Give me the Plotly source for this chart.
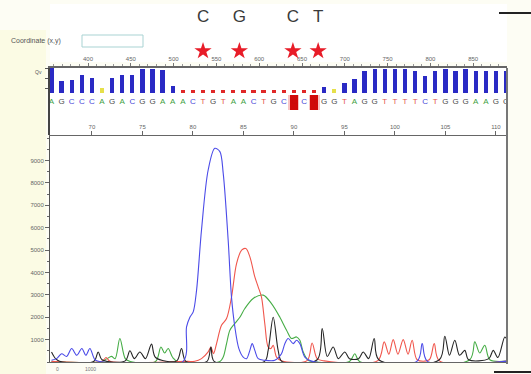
import plotly.graph_objects as go

# ---- sequence strip: base positions, called bases, quality values ----
base_pos = list(range(66, 112))
bases = list("AGCCCAGACGGAAACTGTAACTGC" + "CCT" + "GGTAGGTTTTCTGGGAAGG")
qv = [62, 30, 32, 45, 37, 12, 37, 45, 45, 60, 60, 56, 17,
      8, 8, 8, 8, 8, 8, 8, 8, 8, 8, 8, 8, 8, 8,
      15, 10, 25, 35, 55, 60, 60, 60, 60, 55, 42, 55, 60, 55, 60, 55, 55, 55, 55]
mismatch_pos = [90, 92]

# ---- marked variant sites above the strip ----
variant_pos = [81.0, 84.6, 89.9, 92.4]
variant_base = ["C", "G", "C", "T"]

# ---- scan-number ruler and base-number ticks ----
scan_ticks = [400, 450, 500, 550, 600, 650, 700, 750, 800, 850]
base_ticks = [70, 75, 80, 85, 90, 95, 100, 105, 110]
signal_ticks = [1000, 2000, 3000, 4000, 5000, 6000, 7000, 8000, 9000]

# ---- chromatogram channels (position in bases, signal) ----
c_x = [66.0, 66.5, 67.0, 67.5, 68.0, 68.5, 69.0, 69.4, 69.8, 70.3, 70.8, 79.0, 79.37, 79.7,
       80.03, 80.36, 80.85, 81.51, 82.17, 82.67, 83.0, 83.49, 83.82, 84.15, 84.55, 84.98,
       85.31, 85.64, 85.87, 86.13, 86.46, 87.12, 88.11, 88.77, 89.1, 89.43, 89.93, 90.26,
       90.59, 91.08, 91.74, 102.2, 102.7, 103.2, 111.1]
c_y = [80, 150, 370, 250, 600, 300, 600, 300, 600, 100, 20, 20, 1570, 2000,
       2240, 3200, 5900, 8580, 9550, 9400, 8430, 5450, 2900, 1570, 600, 220,
       150, 520, 820, 520, 150, 75, 75, 370, 820, 1050, 820, 970,
       820, 220, 40, 40, 820, 40, 40]

t_x = [66.0, 71.0, 71.4, 71.8, 79.5, 80.19, 80.85, 81.51, 81.78, 82.04, 82.34, 82.83,
       83.33, 83.82, 84.32, 84.82, 85.24, 85.64, 86.13, 86.46, 86.79, 87.12, 87.45,
       87.72, 87.95, 88.28, 88.77, 91.3, 91.8, 92.3, 93.0, 98.3, 98.94, 99.4, 99.83,
       100.3, 100.82, 101.3, 101.71, 102.2, 103.4, 103.89, 104.4, 111.1]
t_y = [30, 30, 200, 30, 30, 30, 150, 450, 670, 370, 820, 1640,
       1940, 2900, 4400, 5000, 5070, 4700, 3800, 3360, 2900, 1700, 670,
       600, 750, 220, 60, 60, 850, 150, 50, 60, 900, 350, 1000,
       350, 1000, 350, 970, 100, 100, 820, 50, 40]

a_x = [66.0, 71.0, 71.5, 71.94, 72.3, 72.77, 73.3, 73.8, 76.3, 76.83, 77.2, 77.55, 78.0,
       78.5, 82.67, 83.0, 83.33, 83.66, 84.15, 84.65, 85.14, 85.97, 86.96, 87.78, 88.61,
       89.27, 89.76, 90.26, 90.59, 90.92, 91.41, 91.8, 95.5, 96.03, 96.5, 107.4, 107.91,
       108.4, 108.9, 109.4, 111.1]
a_y = [20, 20, 150, 250, 150, 1050, 150, 20, 20, 670, 400, 600, 200,
       20, 20, 220, 820, 1420, 1720, 2000, 2390, 2840, 2990, 2610, 2000,
       1420, 1050, 1120, 970, 450, 75, 20, 20, 370, 20, 100, 900,
       400, 750, 100, 40]

g_x = [66.0, 66.4, 66.8, 70.2, 70.62, 71.0, 73.3, 73.76, 74.2, 74.75, 75.3, 75.9, 76.3,
       78.4, 78.87, 79.3, 81.4, 81.78, 82.1, 87.1, 87.45, 87.95, 88.44, 88.8, 92.3, 92.8,
       93.3, 93.89, 94.4, 95.04, 95.5, 96.4, 96.86, 97.4, 97.95, 98.4, 104.4, 104.94,
       105.4, 105.93, 106.4, 106.92, 107.3, 109.3, 109.73, 110.2, 110.88, 111.1]
g_y = [450, 150, 30, 30, 450, 100, 50, 500, 150, 450, 150, 800, 200,
       50, 600, 30, 30, 670, 30, 30, 520, 2000, 520, 30, 100, 1500,
       250, 670, 150, 450, 150, 150, 450, 150, 1050, 100, 100, 1150,
       300, 970, 300, 520, 100, 150, 520, 200, 1120, 1000]

# ---- page geometry (pixels) ----
W, H = 531, 374
PX_L, PX_R = 50, 507
MAIN_TOP, MAIN_BOT = 136, 362
SEQ_TOP, SEQ_BOT = 68, 135
MARK_TOP, MARK_BOT = 4, 62
QV_BASE_PY = 93
QV_MAX = 62


def fx(px):
    return px / W


def fy(py):
    return 1 - py / H


# y2 range so QV 0 sits at the bar baseline and QV_MAX at the panel top
frac0 = (SEQ_BOT - QV_BASE_PY) / (SEQ_BOT - SEQ_TOP)
Y2_LO = -frac0 * QV_MAX / (1 - frac0)
Y2_PER_PX = (QV_MAX - Y2_LO) / (SEQ_BOT - SEQ_TOP)


def y2_at(py):
    return QV_MAX - (py - SEQ_TOP) * Y2_PER_PX


# marker strip uses pixel rows counted down from its top edge
def y4_at(py):
    return MARK_BOT - py


base_color = {"A": "#3f9f3f", "C": "#4848d8", "G": "#4a4a4a", "T": "#e4574f"}
chan_color = {"C": "#4b4be8", "T": "#f0564c", "A": "#46ad46", "G": "#262626"}


def qv_color(q):
    if q <= 8:
        return "#e02828"
    if q <= 12:
        return "#e6e04a"
    return "#2a2ac4"


fig = go.Figure()

# chromatogram
for name, xs, ys in [("A", a_x, a_y), ("T", t_x, t_y), ("G", g_x, g_y), ("C", c_x, c_y)]:
    fig.add_trace(go.Scatter(x=xs, y=ys, mode="lines", name=name,
                             line=dict(color=chan_color[name], width=1.1, shape="spline", smoothing=0.9),
                             xaxis="x", yaxis="y", showlegend=False, hoverinfo="skip"))

# quality bars
fig.add_trace(go.Bar(x=base_pos, y=qv, width=0.42,
                     marker=dict(color=[qv_color(q) for q in qv], line=dict(width=0)),
                     xaxis="x2", yaxis="y2", showlegend=False, hoverinfo="skip"))

# mismatch highlight blocks behind the base letters
blk_top, blk_bot = y2_at(95), y2_at(110)
fig.add_trace(go.Bar(x=mismatch_pos, y=[blk_bot - blk_top] * len(mismatch_pos), base=blk_top,
                     width=1.1, marker=dict(color="rgba(235,90,90,0.35)", line=dict(width=0)),
                     xaxis="x2", yaxis="y2", showlegend=False, hoverinfo="skip"))
fig.add_trace(go.Bar(x=mismatch_pos, y=[blk_bot - blk_top + 2] * len(mismatch_pos), base=blk_top - 1,
                     width=0.75, marker=dict(color="#d00a0a", line=dict(width=0)),
                     xaxis="x2", yaxis="y2", showlegend=False, hoverinfo="skip"))

# base letters
letter_cols = ["#c80a0a" if p in mismatch_pos else base_color[b] for p, b in zip(base_pos, bases)]
fig.add_trace(go.Scatter(x=base_pos, y=[y2_at(102)] * len(base_pos), mode="text", text=bases,
                         textfont=dict(family="Liberation Sans", size=8, color=letter_cols),
                         xaxis="x2", yaxis="y2", showlegend=False, hoverinfo="skip"))

# variant stars and letters above the strip
fig.add_trace(go.Scatter(x=variant_pos, y=[y4_at(51)] * len(variant_pos), mode="markers",
                         marker=dict(symbol="star", size=13, color="#e81c28", line=dict(width=0)),
                         xaxis="x4", yaxis="y4", showlegend=False, hoverinfo="skip"))
fig.add_trace(go.Scatter(x=variant_pos, y=[y4_at(18)] * len(variant_pos), mode="text", text=variant_base,
                         textfont=dict(family="Liberation Sans", size=17, color="#3a3a3a"),
                         xaxis="x4", yaxis="y4", showlegend=False, hoverinfo="skip"))

# anchor trace for the scan ruler
fig.add_trace(go.Scatter(x=[scan_ticks[0]], y=[0], mode="markers", marker=dict(opacity=0),
                         xaxis="x3", yaxis="y2", showlegend=False, hoverinfo="skip"))

PX_PER_BASE = 10.1
X_LO = 65.85
X_HI = X_LO + (PX_R - PX_L) / PX_PER_BASE
SCAN_PER_PX = 50 / 42.8
SCAN_LO = scan_ticks[0] - (88 - PX_L) * SCAN_PER_PX
SCAN_HI = scan_ticks[0] + (PX_R - 88) * SCAN_PER_PX

tickfont = dict(family="Liberation Sans", size=6, color="#666666")
dom_x = [fx(PX_L), fx(PX_R)]
hidden = dict(visible=False, showgrid=False, zeroline=False)

fig.update_layout(
    width=W, height=H, margin=dict(l=0, r=0, t=0, b=0),
    paper_bgcolor="#fdfdf4", plot_bgcolor="#ffffff",
    barmode="overlay", bargap=0,
    xaxis=dict(domain=dom_x, range=[X_LO, X_HI], side="top", anchor="y",
               tickvals=base_ticks, ticktext=[str(v) for v in base_ticks],
               ticks="outside", ticklen=4, tickcolor="#666", tickfont=tickfont,
               showline=True, mirror=True, linecolor="#666", linewidth=1,
               showgrid=False, zeroline=False, fixedrange=True),
    yaxis=dict(domain=[fy(MAIN_BOT), fy(MAIN_TOP)], range=[0, 10100], anchor="x",
               tickvals=signal_ticks, ticks="outside", ticklen=4, tickcolor="#666",
               tickfont=tickfont, minor=dict(dtick=500, ticks="outside", ticklen=2, tickcolor="#666"),
               showline=True, linecolor="#555", linewidth=1,
               showgrid=False, zeroline=False, fixedrange=True),
    xaxis2=dict(domain=dom_x, matches="x", anchor="y2", showticklabels=False, ticks="",
                showline=False, showgrid=False, zeroline=False),
    yaxis2=dict(domain=[fy(SEQ_BOT), fy(SEQ_TOP)], range=[Y2_LO, QV_MAX], anchor="x2",
                tickvals=[10, 35, 60], ticks="outside", ticklen=3, tickcolor="#555",
                showticklabels=False, showline=True, linecolor="#444", linewidth=1.5,
                showgrid=False, zeroline=False),
    xaxis3=dict(overlaying="x2", anchor="y2", side="top", range=[SCAN_LO, SCAN_HI],
                tickvals=scan_ticks, ticks="outside", ticklen=3, tickcolor="#777",
                tickfont=tickfont, minor=dict(dtick=10, ticks="outside", ticklen=2, tickcolor="#999"),
                showline=True, linecolor="#666", linewidth=1.5, showgrid=False, zeroline=False),
    xaxis4=dict(domain=dom_x, matches="x", anchor="y4", **hidden),
    yaxis4=dict(domain=[fy(MARK_BOT), fy(MARK_TOP)], range=[0, MARK_BOT - MARK_TOP],
                anchor="x4", **hidden),
    shapes=[
        dict(type="rect", xref="paper", yref="paper", x0=0, x1=fx(46), y0=0, y1=fy(30),
             fillcolor="#fbfbe4", line=dict(width=0), layer="below"),
        dict(type="line", xref="paper", yref="paper", x0=fx(PX_R), x1=fx(PX_R),
             y0=fy(MAIN_BOT + 2), y1=fy(SEQ_TOP), line=dict(color="#777", width=2)),
        dict(type="rect", xref="paper", yref="paper", x0=fx(82), x1=fx(143), y0=fy(47), y1=fy(35),
             fillcolor="#ffffff", line=dict(color="#a9d3d3", width=1)),
        dict(type="line", xref="paper", yref="paper", x0=fx(499), x1=1, y0=fy(13), y1=fy(13),
             line=dict(color="#222", width=2)),
        dict(type="line", xref="paper", yref="paper", x0=fx(494), x1=1, y0=fy(372), y1=fy(372),
             line=dict(color="#222", width=2)),
    ],
    annotations=[
        dict(text="Coordinate (x,y)", xref="paper", yref="paper", x=fx(9), y=fy(41),
             xanchor="left", yanchor="middle", showarrow=False,
             font=dict(family="Liberation Sans", size=7, color="#555")),
        dict(text="Qv", xref="paper", yref="paper", x=fx(44), y=fy(72),
             xanchor="right", yanchor="middle", showarrow=False,
             font=dict(family="Liberation Sans", size=5, color="#555")),
        dict(text="0", xref="paper", yref="paper", x=fx(57), y=fy(369),
             xanchor="center", yanchor="middle", showarrow=False,
             font=dict(family="Liberation Sans", size=5, color="#777")),
        dict(text="1000", xref="paper", yref="paper", x=fx(90), y=fy(369),
             xanchor="center", yanchor="middle", showarrow=False,
             font=dict(family="Liberation Sans", size=5, color="#777")),
    ],
)

fig.write_html("out.html")
